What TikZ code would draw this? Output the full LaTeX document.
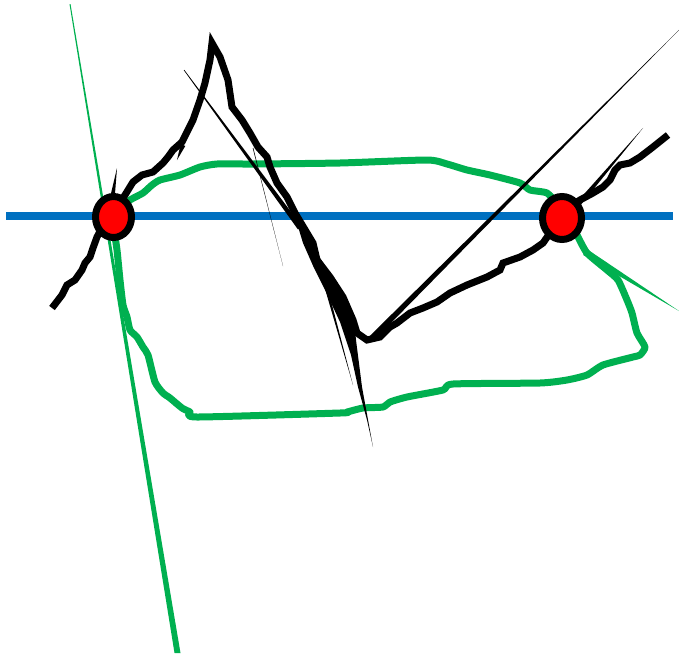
\documentclass[tikz,border=0pt]{standalone}
\usetikzlibrary{calc}
\definecolor{offgreen}{HTML}{00B050}
\definecolor{offblue}{HTML}{0070C0}
\newcommand\taper[5][black]{%
  \fill[#1] ($#2!#3!90:#4$) -- ($#4!#5!-90:#2$) -- ($#4!#5!90:#2$) -- ($#2!#3!-90:#4$) -- cycle;}
\tikzset{
  inkblack/.style={draw=black, line width=7pt, line join=round},
  inkgreen/.style={draw=offgreen, line width=7pt, line join=round, line cap=round},
  dot/.style={draw=black, fill=red, line width=7pt}
}
\begin{document}
\begin{tikzpicture}[x=1pt,y=-1pt]
\useasboundingbox (0,0) rectangle (679,653);
% blue axis
\draw[offblue, line width=8pt] (6,216) -- (673,216);
% green long line
\fill[offgreen] (69.5,4) -- (70.5,4) -- (180.5,653) -- (174.5,653) -- cycle;
% green loop
\draw[inkgreen] plot[smooth, tension=0.35] coordinates {
 (118,210) (130,200) (143,193) (152,185) (160,180) (180,175) (200,167) (217,164)
 (253,164) (340,163) (427,160) (447,164) (467,170) (490,175) (520,183) (530,190)
 (547,193) (558,205) (570,222) (577,235) (587,253) (607,270) (618,280) (627,300)
 (632,313) (637,333) (645,347) (640,355) (633,357) (603,365) (587,375) (567,380)
 (540,383) (453,384) (443,390) (407,397) (390,402) (383,407) (363,408) (347,412)
 (340,413) (197,417) (190,412) (182,408) (170,398) (163,393) (155,382) (148,355)
 (143,347) (137,337) (130,330) (127,317) (123,305) (120,280) (117,250) (114,230)};
\taper[offgreen]{(585,252)}{3.5pt}{(679,311)}{0.01pt}
% black tapered lines
\taper{(184,70)}{0.3pt}{(300,228)}{2.5pt}
\taper{(253,148)}{0.3pt}{(283,266)}{0.01pt}
\taper{(372,338)}{3pt}{(679,30)}{0.01pt}
\taper{(575,208)}{2.5pt}{(643,128)}{0.01pt}
\taper{(112,200)}{2.5pt}{(117,168)}{0.01pt}
\taper{(183,145)}{2.5pt}{(177,160)}{0.01pt}
% wide band and long spikes
\fill (296,220) -- (312,240) -- (320,258) -- (333,278) -- (346,298) -- (354,320)
 -- (356,340) -- (362,387) -- (373,447) -- (367,420) -- (358,387) -- (351,355)
 -- (340,322) -- (326,292) -- (314,268) -- (303,243) -- cycle;
\taper{(324,280)}{1.5pt}{(353,385)}{0.01pt}
% thick black curve
\draw[inkblack, line join=miter] (52,308) -- (62,295) -- (67,285) -- (75,280) -- (82,270)
 -- (85,263) -- (90,257) -- (93,248) -- (97,237) -- (105,222) -- (118,205) -- (125,195)
 -- (133,182) -- (142,175) -- (153,172) -- (163,163) -- (168,157) -- (173,150) -- (182,142)
 -- (187,132) -- (193,120) -- (200,100) -- (205,83) -- (210,60) -- (212,43) -- (220,57)
 -- (228,80) -- (232,107) -- (242,120) -- (250,133) -- (258,147) -- (267,157) -- (270,167)
 -- (277,183) -- (287,197) -- (295,213) -- (313,243) -- (317,260) -- (330,277) -- (343,297)
 -- (353,320) -- (357,333) -- (367,340) -- (380,337) -- (390,327) -- (397,323) -- (410,313)
 -- (423,308) -- (437,302) -- (450,293) -- (467,285) -- (487,277) -- (500,270) -- (503,263)
 -- (520,257) -- (533,250) -- (543,243) -- (552,230) -- (572,205) -- (580,200) -- (593,193)
 -- (603,187) -- (610,180) -- (615,170) -- (620,165) -- (630,163) -- (640,157) -- (653,147)
 -- (668,135);
% red points
\draw[dot] (113.5,217) ellipse [x radius=18pt, y radius=20.5pt];
\draw[dot] (562,218) ellipse [x radius=19.5pt, y radius=21.5pt];
\end{tikzpicture}
\end{document}
